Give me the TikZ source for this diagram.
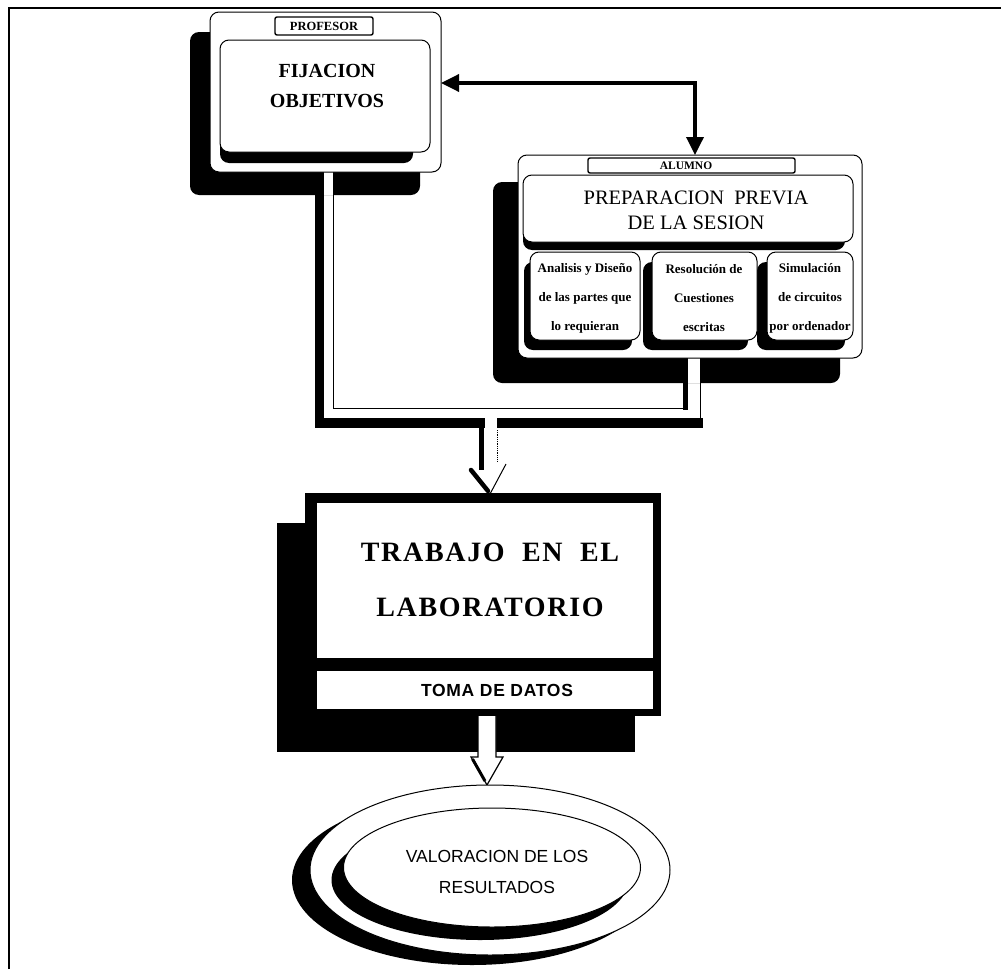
\documentclass[tikz,border=0pt]{standalone}
\usepackage{fontspec}
\setmainfont{Liberation Serif}
\setsansfont{Liberation Sans}
\usetikzlibrary{arrows.meta,shapes.geometric}
\begin{document}
\begin{tikzpicture}[x=1pt,y=-1pt,
  box/.style={inner sep=0pt, outer sep=0pt, anchor=north west},
  shadowbox/.style={box, fill=black, rounded corners=9pt},
  whitebox/.style={box, fill=white, draw=black, line width=1pt, rounded corners=9pt},
  labelbox/.style={box, fill=white, draw=black, line width=1.4pt, rounded corners=2pt},
  subtext/.style={align=center, font=\bfseries\fontsize{13}{29}\selectfont},
  ell/.style={ellipse, inner sep=0pt, outer sep=0pt},
  pipeline/.style={line width=1pt},
  bigtip/.style={line width=3.5pt, {Triangle[length=18pt,width=17pt]}-{Triangle[length=18pt,width=17pt]}}
]
\useasboundingbox (0,0) rectangle (1001,969);
\fill[white] (0,0) rectangle (1001,969);
% frame
\draw[line width=2.5pt] (9,969) -- (9,8) -- (1001,8);

% shadows
\node[shadowbox, minimum width=230pt, minimum height=163pt] (profsh) at (190,32) {};
\node[shadowbox, minimum width=347pt, minimum height=201pt] (alush) at (493,182) {};
\node[box, fill=black, minimum width=358pt, minimum height=229pt] (trabsh) at (277,523) {};

% pipes (black shadow sides, white channel, thin sides)
\coordinate (p1) at (333,172);
\coordinate (p2) at (333,408);
\coordinate (p3) at (683,408);
\coordinate (q1) at (700,358);
\coordinate (q2) at (700,418);
\fill (315,195) rectangle (324,428);
\fill (315,418) rectangle (485,428);
\fill (497,418) rectangle (703,428);
\fill (683,358) rectangle (688,410);
\fill[white] (324,172) rectangle (333,195);
\fill[white] (688,358) rectangle (700,383);
\draw[pipeline] (p1) -- (p2) -- (p3);
\draw[pipeline] (q1) -- (q2);

% hollow arrow into the laboratory box
\coordinate (atip) at (490,494);
\fill[white] (485,428) -- (485,466) -- (468,466) -- (atip) -- (507,466) -- (497,466) -- (497,428) -- cycle;
\draw[line width=5pt] (481.5,428) -- (481.5,470);
\draw[line width=4.5pt, line cap=round] (471,470) -- (488,491);
\draw[densely dotted, line width=.8pt] (497,430) -- (497,462);
\draw[line width=1pt] (506,464) -- (atip);

% PROFESOR group
\node[whitebox, minimum width=231pt, minimum height=160pt] (prof) at (210,12) {};
\node[shadowbox, minimum width=193pt, minimum height=105pt] (fijsh) at (220,58) {};
\node[whitebox, minimum width=210pt, minimum height=112pt] (fij) at (220,40) {};
\node[align=center, font=\bfseries\fontsize{20}{30}\selectfont] (fijtext) at (327,86) {FIJACION\\OBJETIVOS};
\node[labelbox, minimum width=98pt, minimum height=18pt] (proflab) at (275,17) {};
\node[font=\bfseries\fontsize{12.5}{14}\selectfont] (proftext) at (proflab.center) {PROFESOR};

% ALUMNO group
\node[whitebox, minimum width=344pt, minimum height=203pt] (alu) at (518,155) {};
\node[labelbox, minimum width=207pt, minimum height=15pt] (alulab) at (588,158) {};
\node[font=\bfseries\fontsize{11.5}{13}\selectfont] (alutext) at (686,166) {ALUMNO};
\node[shadowbox, minimum width=322pt, minimum height=64pt] (prepsh) at (523,186) {};
\node[whitebox, minimum width=330pt, minimum height=67pt] (prep) at (523,175) {};
\node[align=center, font=\fontsize{20.5}{25}\selectfont] (preptext) at (696,210) {PREPARACION\ \ PREVIA\\DE LA SESION};

\node[shadowbox, minimum width=108pt, minimum height=88pt] (s1sh) at (524,262) {};
\node[shadowbox, minimum width=105pt, minimum height=88pt] (s2sh) at (643,262) {};
\node[shadowbox, minimum width=88pt, minimum height=88pt] (s3sh) at (757,262) {};
\node[whitebox, minimum width=110pt, minimum height=88pt] (s1) at (530,252) {};
\node[whitebox, minimum width=105pt, minimum height=88pt] (s2) at (652,252) {};
\node[whitebox, minimum width=86pt, minimum height=88pt] (s3) at (767,252) {};
\node[subtext] (s1text) at (585,298) {Analisis y Diseño\\de las partes que\\lo requieran};
\node[subtext] (s2text) at (704,298) {Resolución de\\Cuestiones\\escritas};
\node[subtext] (s3text) at (810,298) {Simulación\\de circuitos\\por ordenador};

% connector between objectives and student
\draw[bigtip] ([yshift=9pt]prof.east) -| ([xshift=177pt]alu.north west);

% TRABAJO group
\node[box, fill=black, minimum width=356pt, minimum height=223pt] (trab) at (305,493) {};
\node[box, fill=white, minimum width=336pt, minimum height=155pt] (trabin) at (317,503) {};
\node[box, fill=white, minimum width=336pt, minimum height=38pt] (toma) at (317,671) {};
\node[align=center, font=\bfseries\fontsize{28}{55}\selectfont\addfontfeature{LetterSpace=6}] (trabtext) at (490,580) {TRABAJO\ \ EN\ \ EL\\LABORATORIO};
\node[font=\sffamily\bfseries\fontsize{17.5}{20}\selectfont\addfontfeature{LetterSpace=4}] (tomatext) at (497,690) {TOMA DE DATOS};

% hollow arrow to the results
\coordinate (btip) at (487,785);
\draw[fill=white, line width=1.2pt] (478,716) -- (478,757) -- (471,757) -- (btip) -- (503,757) -- (496,757) -- (496,716);
\draw[line width=3pt] (472.5,759) -- (485,781);

% VALORACION ellipses
\node[ell, fill=black, minimum width=360pt, minimum height=170pt] (valsh) at (472,880) {};
\node[ell, fill=white, draw=black, line width=1pt, minimum width=360pt, minimum height=170pt] (val) at (490,870) {};
\node[ell, fill=black, minimum width=297pt, minimum height=120pt] (valinsh) at (480,880) {};
\node[ell, fill=white, draw=black, line width=1pt, minimum width=297pt, minimum height=119pt] (valin) at (492,867.5) {};
\node[align=center, font=\sffamily\fontsize{17.5}{31}\selectfont] (valtext) at (497,872) {VALORACION DE LOS\\RESULTADOS};
\end{tikzpicture}
\end{document}
